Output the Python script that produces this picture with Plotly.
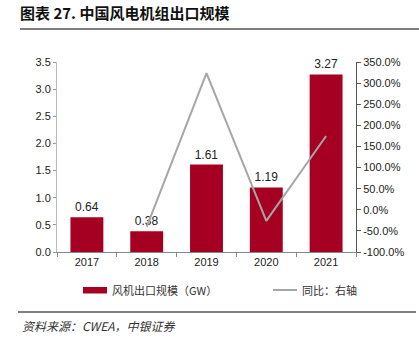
import plotly.graph_objects as go

years = ["2017", "2018", "2019", "2020", "2021"]
export_gw = [0.64, 0.38, 1.61, 1.19, 3.27]
yoy_pct = [None, -40.6, 323.7, -26.1, 174.8]
left_ticks = [0, 0.5, 1.0, 1.5, 2.0, 2.5, 3.0, 3.5]
right_ticks = [-100, -50, 0, 50, 100, 150, 200, 250, 300, 350]
right_labels = [f"{v:.1f}%" for v in right_ticks]
bar_name = "风机出口规模（GW）"
line_name = "同比：右轴"
bar_color = "#A50021"
line_color = "#A6A6A6"

W, H = 419, 343
L, R, T, B = 57, 356, 62, 252
pw, ph = R - L, B - T

def px(x):
    return (x - L) / pw

def py(y):
    return (B - y) / ph

fig = go.Figure()
fig.add_trace(go.Bar(
    x=years, y=export_gw, name=bar_name,
    marker=dict(color=bar_color, line=dict(width=0)), width=0.55,
    text=export_gw, texttemplate="%{y:.2f}", textposition="outside",
    textfont=dict(family="Liberation Sans, Arial", size=12, color="#222"),
    cliponaxis=False, showlegend=False,
))
fig.add_trace(go.Scatter(
    x=years, y=yoy_pct, name=line_name, yaxis="y2", mode="lines",
    line=dict(color=line_color, width=2), connectgaps=False, showlegend=False,
))

tickfont = dict(family="Liberation Sans, Arial", size=11, color="#222")
legfont = dict(family="Noto Sans CJK SC", size=11, color="#333")
fig.update_layout(
    width=W, height=H, autosize=False,
    margin=dict(l=L, r=W - R, t=T, b=H - B),
    paper_bgcolor="white", plot_bgcolor="white",
    showlegend=False,
    xaxis=dict(type="category", tickson="boundaries", ticks="outside", ticklen=4,
               tickcolor="#888", showline=True, linecolor="#888", linewidth=1,
               showgrid=False, tickfont=tickfont),
    yaxis=dict(range=[0, 3.5], tickvals=left_ticks, tickformat=".1f", ticks="outside",
               ticklen=3, tickcolor="#999", showline=True, linecolor="#BBBBBB",
               showgrid=False, zeroline=False, tickfont=tickfont),
    yaxis2=dict(range=[-100, 350], tickvals=right_ticks, ticktext=right_labels,
                overlaying="y", side="right", ticks="outside", ticklen=4, tickcolor="#555",
                showline=True, linecolor="#555", showgrid=False, zeroline=False,
                tickfont=tickfont),
    title=dict(text="<b>图表 27. 中国风电机组出口规模</b>", xref="container", yref="container",
               x=20 / W, xanchor="left", y=1 - 14 / H, yanchor="middle",
               font=dict(family="Noto Sans CJK SC", size=15, color="#111")),
    shapes=[
        dict(type="line", xref="paper", yref="paper", x0=px(20), x1=px(419),
             y0=py(29), y1=py(29), line=dict(color="#555", width=1.5)),
        dict(type="line", xref="paper", yref="paper", x0=px(18), x1=px(416),
             y0=py(312), y1=py(312), line=dict(color="#555", width=1.5)),
        # legend symbols
        dict(type="rect", xref="paper", yref="paper", x0=px(83), x1=px(107),
             y0=py(293.5), y1=py(287), fillcolor=bar_color, line=dict(width=0)),
        dict(type="line", xref="paper", yref="paper", x0=px(273), x1=px(297),
             y0=py(290), y1=py(290), line=dict(color=line_color, width=2)),
    ],
    annotations=[
        dict(text=bar_name, xref="paper", yref="paper", x=px(110), y=py(290),
             xanchor="left", yanchor="middle", showarrow=False, font=legfont),
        dict(text=line_name, xref="paper", yref="paper", x=px(300), y=py(290),
             xanchor="left", yanchor="middle", showarrow=False, font=legfont),
        dict(text="<i>资料来源：CWEA，中银证券</i>", xref="paper", yref="paper",
             x=px(20), y=py(325), xanchor="left", yanchor="middle", showarrow=False,
             font=dict(family="Noto Sans CJK SC", size=12, color="#333")),
    ],
)

fig.write_html("out.html")
